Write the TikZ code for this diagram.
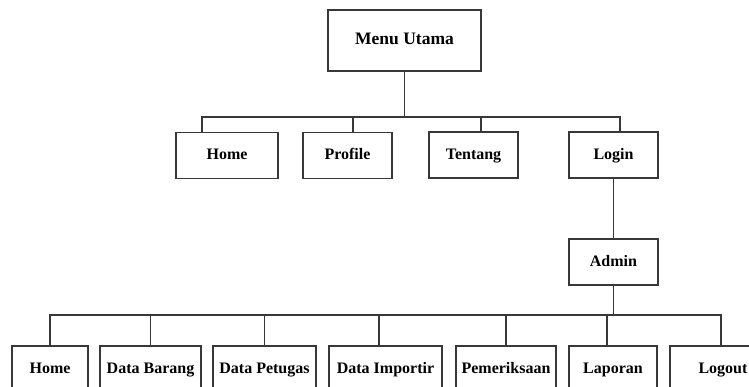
\documentclass[tikz,border=0pt]{standalone}
\usepackage{fontspec}
\setmainfont{Liberation Serif}
\usetikzlibrary{calc}
\colorlet{linecol}{black!78}
\tikzstyle{menubox}=[rectangle, draw=linecol, line width=1.3pt, fill=white, inner sep=0pt, font=\fontsize{16}{18}\selectfont\bfseries, text height=0.9em, text depth=0.05em, minimum height=46pt]

\begin{document}
\begin{tikzpicture}[x=1pt, y=-1pt, line width=1.3pt, draw=linecol]
                    \useasboundingbox (0,0) rectangle (749,387);
                    % level 0
                    \node[menubox, minimum width=153pt, minimum height=61pt, font=\fontsize{17.5}{20}\selectfont\bfseries] (menu) at (404.5, 40.5) {Menu Utama};
                    % level 1
                    \node[menubox, minimum width=102pt] (home) at (227, 155.5) {Home};
                    \node[menubox, minimum width=89pt] (profile) at (347.5, 155.5) {Profile};
                    \node[menubox, minimum width=89pt] (tentang) at (473.5, 155) {Tentang};
                    \node[menubox, minimum width=89pt] (login) at (613.5, 155) {Login};
                    \node[menubox, minimum width=89pt] (admin) at (613.5, 262) {Admin};
                    % level 2
                    \node[menubox, minimum width=76pt] (ahome) at (50, 369) {Home};
                    \node[menubox, minimum width=101pt] (barang) at (150.5, 369) {Data Barang};
                    \node[menubox, minimum width=103pt] (petugas) at (264.5, 369) {Data Petugas};
                    \node[menubox, minimum width=113pt] (importir) at (385.5, 369) {Data Importir};
                    \node[menubox, minimum width=100pt] (periksa) at (506, 369) {Pemeriksaan};
                    \node[menubox, minimum width=88pt] (laporan) at (613, 369) {Laporan};
                    \node[menubox, minimum width=106pt] (logout) at (723, 369) {Logout};
                    % connectors
                    \coordinate (bus1) at (0, 117);
                    \coordinate (bus2) at (0, 315);
                    \draw (menu.south) -- (menu.south |- bus1);
                    \draw ([xshift=-25pt]home.north) |- (menu.south |- bus1);
                    \draw ([xshift=5.5pt]profile.north) -- ([xshift=5.5pt]profile.north |- bus1);
                    \draw ([xshift=7.5pt]tentang.north) -- ([xshift=7.5pt]tentang.north |- bus1);
                    \draw ([xshift=6.5pt]login.north) |- (menu.south |- bus1);
                    \draw (login.south) -- (admin.north);
                    \draw (admin.south) -- (admin.south |- bus2);
                    \draw (ahome.north) |- ([xshift=-2pt]logout.north |- bus2) -- ([xshift=-2pt]logout.north);
                    \draw (barang.north) -- (barang.north |- bus2);
                    \draw (petugas.north) -- (petugas.north |- bus2);
                    \draw ([xshift=-6.5pt]importir.north) -- ([xshift=-6.5pt]importir.north |- bus2);
                    \draw (periksa.north) -- (periksa.north |- bus2);
                    \draw ([xshift=-6pt]laporan.north) -- ([xshift=-6pt]laporan.north |- bus2);
                \end{tikzpicture}
\end{document}
